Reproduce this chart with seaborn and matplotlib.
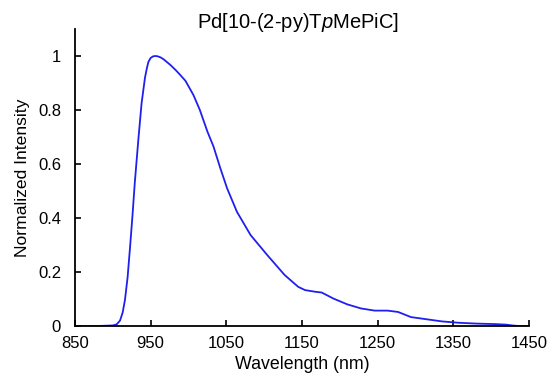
import matplotlib
matplotlib.use("Agg")
import matplotlib.pyplot as plt
import seaborn as sns
import pandas as pd

wavelength = [850, 880, 900, 905, 909.5, 913, 916, 919.5, 922.7, 926, 929, 933.7, 938, 942.5, 945, 947,
              950, 953.5, 956.5, 959, 963, 967, 976, 983, 989, 996, 1006.6, 1015, 1025, 1033,
              1042, 1051, 1064, 1082, 1104, 1127, 1145, 1154, 1167, 1176, 1192, 1210, 1228, 1246,
              1263, 1277, 1294, 1312, 1335, 1357, 1380, 1406, 1420, 1428, 1436, 1450]
intensity = [0.0, 0.0, 0.002, 0.006, 0.02, 0.05, 0.096, 0.18, 0.29, 0.41, 0.53, 0.69, 0.825, 0.92, 0.955, 0.978,
             0.993, 0.999, 1.0, 0.999, 0.995, 0.988, 0.967, 0.948, 0.93, 0.908, 0.855, 0.80, 0.72, 0.665,
             0.585, 0.51, 0.423, 0.337, 0.263, 0.189, 0.145, 0.133, 0.127, 0.124, 0.101, 0.08, 0.065, 0.057,
             0.057, 0.052, 0.033, 0.026, 0.017, 0.012, 0.009, 0.007, 0.005, 0.002, 0.0, 0.0]
x_ticks = [850, 950, 1050, 1150, 1250, 1350, 1450]
y_ticks = [0, 0.2, 0.4, 0.6, 0.8, 1]
y_tick_labels = ["0", "0.2", "0.4", "0.6", "0.8", "1"]
title = r"Pd[10-(2-py)T$\mathit{p}$MePiC]"

sns.set_theme(style="ticks")
plt.rcParams['font.family'] = ['Liberation Sans', 'DejaVu Sans']
plt.rcParams['mathtext.fontset'] = 'custom'
plt.rcParams['mathtext.it'] = 'Liberation Sans:italic'
plt.rcParams['mathtext.rm'] = 'Liberation Sans'

df = pd.DataFrame({"Wavelength": wavelength, "Intensity": intensity})

fig = plt.figure(figsize=(5.48, 3.80), dpi=100)
ax = fig.add_axes([75/548, 1-326/380, (529-75)/548, (326-29)/380])
sns.lineplot(data=df, x="Wavelength", y="Intensity", ax=ax, color="#1f1ff0", linewidth=1.3)

ax.set_xlim(850, 1450)
ax.set_ylim(0, 1.1)
ax.set_xticks(x_ticks)
ax.set_yticks(y_ticks)
ax.set_yticklabels(y_tick_labels)
ax.tick_params(direction='in', length=4, width=1.2, labelsize=12, colors='black')
ax.tick_params(axis='x', pad=7.5)
ax.tick_params(axis='y', pad=10)
for s in ['top', 'right']:
    ax.spines[s].set_visible(False)
for s in ['left', 'bottom']:
    ax.spines[s].set_linewidth(1.3)
    ax.spines[s].set_color('black')
ax.set_xlabel("Wavelength (nm)", fontsize=12.8, labelpad=3, color='black')
ax.set_ylabel("Normalized Intensity", fontsize=12.6, labelpad=6, color='black')
fig.text(298/548, 1-23/380, title, fontsize=14.5, ha='center', va='center', color='black')

fig.savefig("out.png", dpi=100)
